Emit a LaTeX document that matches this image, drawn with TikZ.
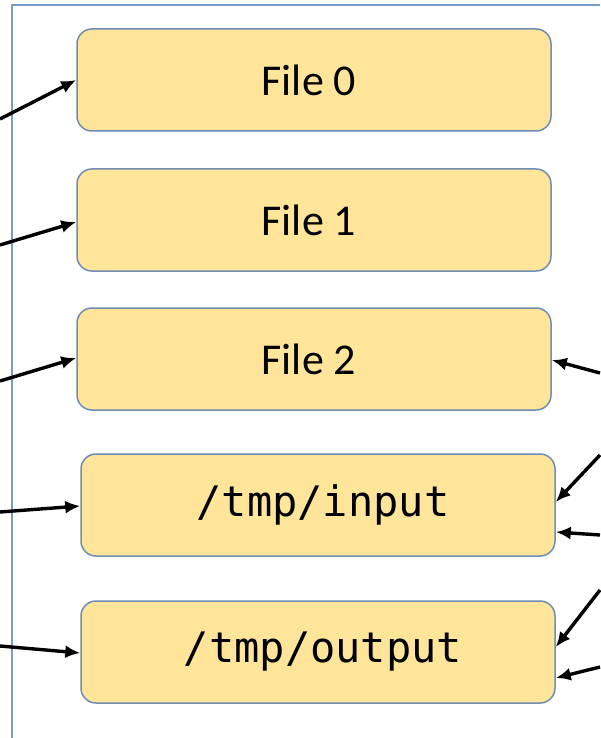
\documentclass[tikz,border=0pt]{standalone}
\usepackage{fontspec}
\setmainfont{Carlito}
\setmonofont{DejaVu Sans Mono}
\usetikzlibrary{arrows.meta}
\definecolor{boxfill}{RGB}{255,229,153}
\definecolor{boxline}{RGB}{110,140,180}
\definecolor{frameline}{RGB}{120,155,200}
\tikzset{
  filebox/.style={draw=boxline, line width=1.5pt, fill=boxfill, rounded corners=15pt,
    minimum width=474pt, minimum height=102pt, inner sep=0pt},
  filename/.style={font=\fontsize{44}{44}\selectfont},
  pathname/.style={font=\ttfamily\fontsize{42}{42}\selectfont},
  link/.style={->, line width=3.4pt}
}
\begin{document}
\begin{tikzpicture}[>={Latex[length=15pt,width=13pt]}, x=1pt, y=-1pt]
    % 1. 画布大小与外框
    \useasboundingbox (0,0) rectangle (600,738);
    \draw[frameline, line width=1.5pt] (600,5) -- (12,5) -- (12,738);

    % 2. 文件方框
    \node[filebox] (file0) at (314,80) {};
    \node[filename, xshift=-5pt] at (file0) {File 0};
    \node[filebox] (file1) at (314,220) {};
    \node[filename, xshift=-5pt] at (file1) {File 1};
    \node[filebox] (file2) at (314,359) {};
    \node[filename, xshift=-5pt] at (file2) {File 2};
    \node[filebox] (tmpin) at (318,505) {};
    \node[pathname, xshift=5pt] at (tmpin) {/tmp/input};
    \node[filebox] (tmpout) at (318,652) {};
    \node[pathname, xshift=5pt] at (tmpout) {/tmp/output};

    % 3. 左侧箭头的起点
    \coordinate (l0) at (0,119);
    \coordinate (l1) at (0,245);
    \coordinate (l2) at (0,381);
    \coordinate (lin) at (0,512);
    \coordinate (lout) at (0,646);

    \draw[link] (l0) -- (file0.west |- 0,80);
    \draw[link] (l1) -- (file1.west |- 0,222);
    \draw[link] (l2) -- (file2.west |- 0,358);
    \draw[link] (lin) -- (tmpin.west |- 0,506);
    \draw[link] (lout) -- (tmpout.west |- 0,653);

    % 4. 右侧箭头
    \coordinate (r2) at (600,373);
    \coordinate (rin1) at (600,455);
    \coordinate (rin2) at (600,535);
    \coordinate (rout1) at (600,590);
    \coordinate (rout2) at (600,667);

    \draw[link] (r2) -- (file2.east |- 0,360);
    \draw[link] (rin1) -- (tmpin.east |- 0,502);
    \draw[link] (rin2) -- (tmpin.east |- 0,532);
    \draw[link] (rout1) -- (tmpout.east |- 0,647);
    \draw[link] (rout2) -- (tmpout.east |- 0,678);
\end{tikzpicture}
\end{document}
